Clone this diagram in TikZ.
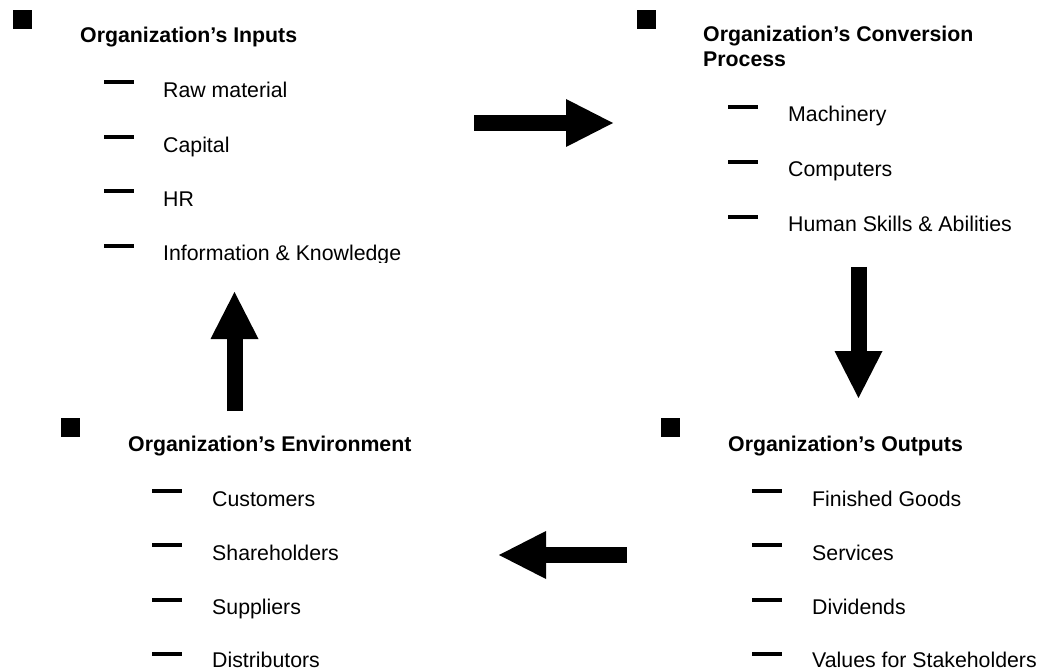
\documentclass[tikz,border=0pt]{standalone}
\usepackage{fontspec}
\setmainfont{Liberation Sans}
\usetikzlibrary{arrows.meta}

\begin{document}
\begin{tikzpicture}[x=1pt,y=-1pt,
   heading/.style={anchor=base west,inner sep=0pt,align=left,
     font=\fontsize{21.3}{25}\selectfont\bfseries},
   entry/.style={anchor=base west,inner sep=0pt,
     font=\fontsize{21.3}{25}\selectfont},
   marker/.style={anchor=north west,fill=black,inner sep=0pt,minimum size=19pt},
   itemdash/.style={line width=4pt},
   bigarrow/.style={line width=16pt,
     -{Triangle[length=47pt,width=48pt,line width=0pt]}}]
   \useasboundingbox (0,0) rectangle (1042,671);

   % inputs
   \node[marker] (mIn) at (13,10) {};
   \node[heading] (hIn) at (80,43) {Organization’s Inputs};
   \draw[itemdash] (104,82) -- (134,82);
   \node[entry] (raw) at (163,98) {Raw material};
   \draw[itemdash] (104,137) -- (134,137);
   \node[entry] (cap) at (163,153) {Capital};
   \draw[itemdash] (104,191) -- (134,191);
   \node[entry] (hr) at (163,207) {HR};
   \draw[itemdash] (104,246) -- (134,246);
   \begin{scope}
     \clip (0,0) rectangle (1042,263);
     \node[entry] (info) at (163,261) {Information \& Knowledge};
   \end{scope}

   % conversion process (base = last line)
   \node[marker] (mConv) at (637,10) {};
   \node[heading] (hConv) at (703,67) {Organization’s Conversion\\Process};
   \draw[itemdash] (728,107) -- (758,107);
   \node[entry] (mach) at (788,122) {Machinery};
   \draw[itemdash] (728,162) -- (758,162);
   \node[entry] (comp) at (788,177) {Computers};
   \draw[itemdash] (728,217) -- (758,217);
   \node[entry] (skill) at (788,232) {Human Skills \& Abilities};

   % environment
   \node[marker] (mEnv) at (61,418) {};
   \node[heading] (hEnv) at (128,451) {Organization’s Environment};
   \draw[itemdash] (152,491) -- (182,491);
   \node[entry] (cust) at (212,506) {Customers};
   \draw[itemdash] (152,545) -- (182,545);
   \node[entry] (share) at (212,560) {Shareholders};
   \draw[itemdash] (152,600) -- (182,600);
   \node[entry] (supp) at (212,614) {Suppliers};
   \draw[itemdash] (152,654) -- (182,654);
   \node[entry] (dist) at (212,667) {Distributors};

   % outputs
   \node[marker] (mOut) at (661,418) {};
   \node[heading] (hOut) at (728,451) {Organization’s Outputs};
   \draw[itemdash] (752,491) -- (782,491);
   \node[entry] (goods) at (812,506) {Finished Goods};
   \draw[itemdash] (752,545) -- (782,545);
   \node[entry] (serv) at (812,560) {Services};
   \draw[itemdash] (752,600) -- (782,600);
   \node[entry] (divi) at (812,614) {Dividends};
   \draw[itemdash] (752,654) -- (782,654);
   \node[entry] (vals) at (812,667) {Values for Stakeholders};

   % cycle arrows
   \coordinate (inTail) at (474,123);
   \coordinate (convTip) at (613,123);
   \coordinate (convTail) at (858.5,267);
   \coordinate (outTip) at (858.5,398);
   \coordinate (outTail) at (627,555);
   \coordinate (envTip) at (499,555);
   \coordinate (envTail) at (234.5,411);
   \coordinate (inTip) at (234.5,292);
   \draw[bigarrow] (inTail) -- (convTip);
   \draw[bigarrow] (convTail) -- (outTip);
   \draw[bigarrow] (outTail) -- (envTip);
   \draw[bigarrow] (envTail) -- (inTip);
\end{tikzpicture}
\end{document}
